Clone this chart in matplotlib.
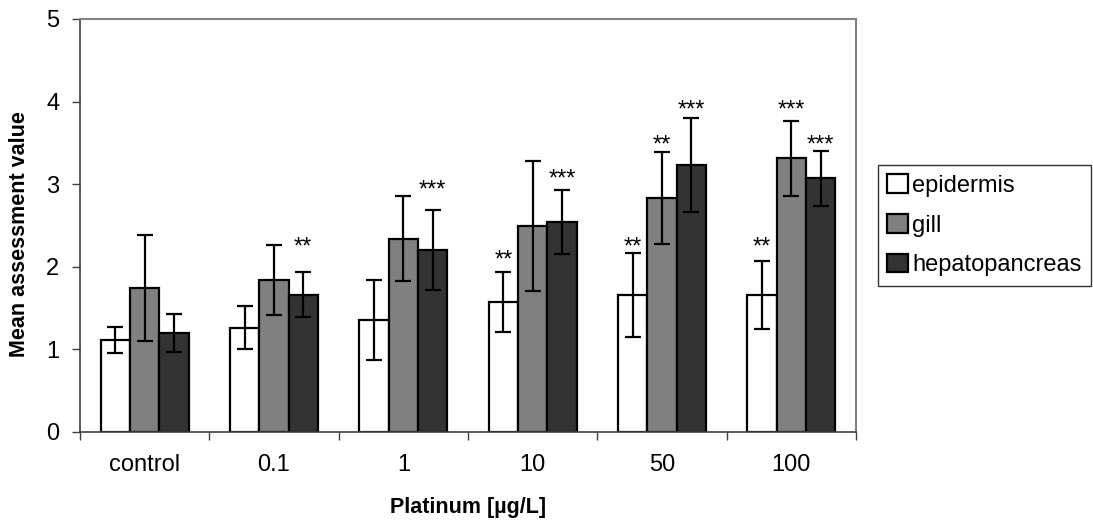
import matplotlib
matplotlib.use("Agg")
import matplotlib.pyplot as plt
import numpy as np

plt.rcParams['font.family'] = ['Liberation Sans', 'DejaVu Sans']

categories = ["control", "0.1", "1", "10", "50", "100"]
series_names = ["epidermis", "gill", "hepatopancreas"]

epidermis = [1.11, 1.26, 1.35, 1.57, 1.66, 1.66]
gill = [1.74, 1.84, 2.34, 2.49, 2.83, 3.31]
hepatopancreas = [1.20, 1.66, 2.20, 2.54, 3.23, 3.07]

epidermis_err = [0.16, 0.26, 0.485, 0.365, 0.51, 0.41]
gill_err = [0.645, 0.425, 0.52, 0.79, 0.56, 0.46]
hepatopancreas_err = [0.23, 0.27, 0.48, 0.39, 0.57, 0.33]

# significance marks: (category index, series index, text, height of mark centre)
sig_cat = [1, 2, 3, 3, 4, 4, 4, 5, 5, 5]
sig_ser = [2, 2, 0, 2, 0, 1, 2, 0, 1, 2]
sig_txt = ["**", "***", "**", "***", "**", "**", "***", "**", "***", "***"]
sig_y = [2.32, 3.01, 2.165, 3.15, 2.32, 3.56, 3.98, 2.32, 3.98, 3.56]

colors = ["white", "#808080", "#333333"]

W, H = 1093, 526
fig = plt.figure(figsize=(W / 100, H / 100), dpi=100)
ax = fig.add_axes([80 / W, 1 - 431.7 / H, 776 / W, (431.7 - 19) / H])

x = np.arange(len(categories))
bw = 0.226
values = [epidermis, gill, hepatopancreas]
errs = [epidermis_err, gill_err, hepatopancreas_err]
fs = 17
for i, (v, e) in enumerate(zip(values, errs)):
    pos = x + (i - 1) * bw
    ax.bar(pos, v, width=bw, color=colors[i], edgecolor="black", linewidth=1.6,
           label=series_names[i], zorder=2)
    ax.errorbar(pos, v, yerr=e, fmt="none", ecolor="black", elinewidth=1.6,
                capsize=5.8, capthick=1.6, zorder=3)

for c, s, t, yv in zip(sig_cat, sig_ser, sig_txt, sig_y):
    ax.annotate(t, xy=(x[c] + (s - 1) * bw, yv), xytext=(0, -0.58 * fs),
                textcoords="offset points", ha="center", va="baseline",
                fontsize=fs, zorder=4)

ax.set_xlim(-0.5, len(categories) - 0.5)
ax.set_ylim(0, 5)
ax.set_yticks(range(6))
ax.set_xticks(x)
ax.set_xticklabels(categories)
ax.set_xticks(np.arange(len(categories) + 1) - 0.5, minor=True)
ax.tick_params(axis="x", which="major", length=0, pad=16, labelsize=fs)
ax.tick_params(axis="x", which="minor", length=6, width=1, color="#404040", direction="out")
ax.tick_params(axis="y", length=6, width=1, color="#404040", pad=9, labelsize=fs)

for side in ["top", "right"]:
    ax.spines[side].set_color("#808080")
    ax.spines[side].set_linewidth(1.5)
for side in ["left", "bottom"]:
    ax.spines[side].set_color("#404040")
    ax.spines[side].set_linewidth(1.2)

ax.set_ylabel("Mean assessment value", fontsize=15.5, fontweight="bold")
ax.yaxis.set_label_coords(-0.064, 0.479)
ax.set_xlabel("Platinum [µg/L]", fontsize=15.5, fontweight="bold")
ax.xaxis.set_label_coords(0.5, -0.158)

leg = fig.legend(loc="upper left", bbox_to_anchor=(878 / W, 1 - 165 / H),
                 frameon=True, fancybox=False, edgecolor="black", fontsize=fs,
                 handlelength=0.85, handleheight=0.85, handletextpad=0.2,
                 labelspacing=0.72, borderpad=0.4, borderaxespad=0)
leg.get_frame().set_linewidth(1.0)

fig.savefig("out.png", dpi=100)
